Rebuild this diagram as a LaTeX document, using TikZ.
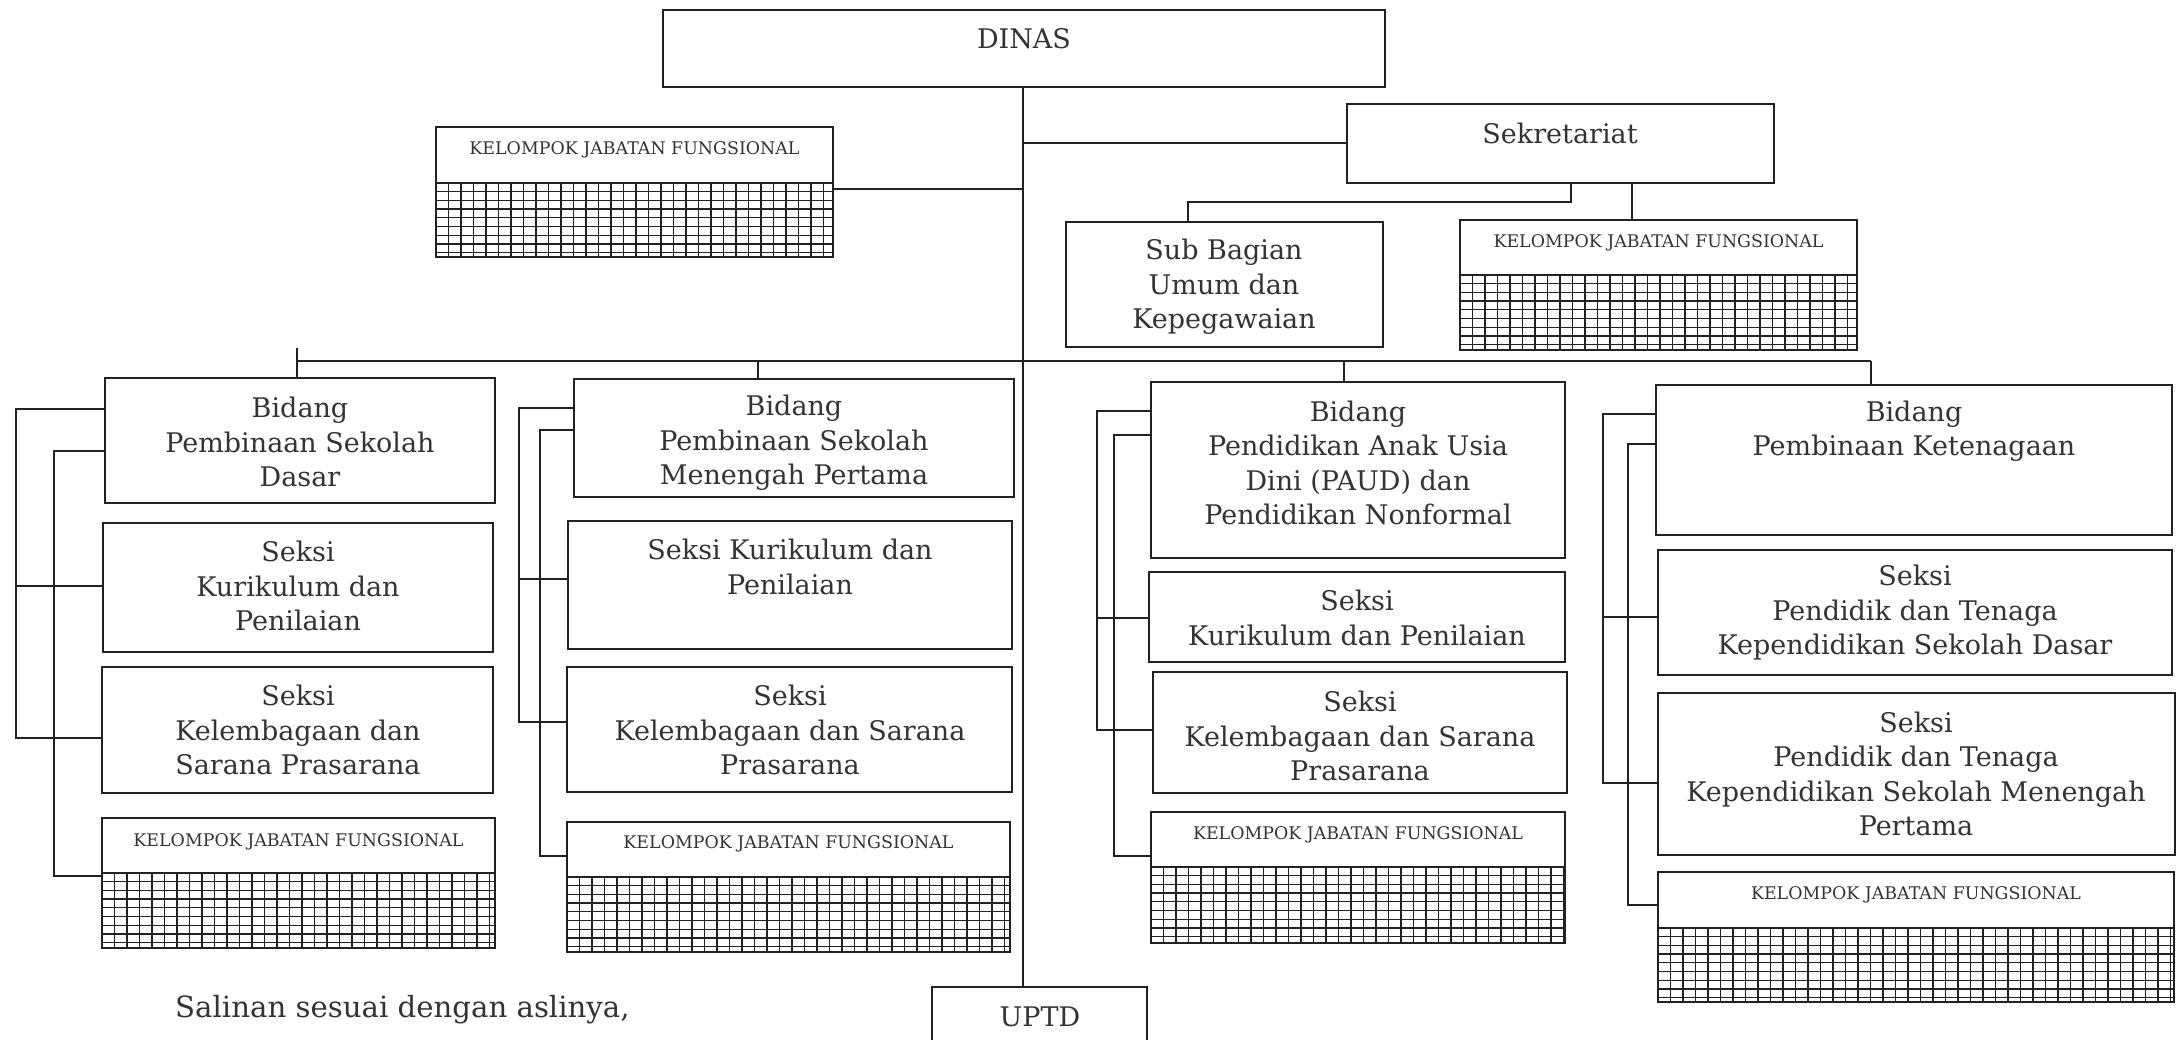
\documentclass[tikz,border=0pt]{standalone}
\usepackage{fontspec}
\setmainfont{DejaVu Serif}
\usetikzlibrary{calc}
\definecolor{ink}{gray}{0.13}
\definecolor{tink}{gray}{0.2}
\tikzset{
  box/.style={draw=ink,line width=2.6pt,rectangle,inner sep=0pt,outer sep=0pt},
  conn/.style={draw=ink,line width=2.1pt},
  hl/.style={draw=ink,line width=1.3pt},
  txt/.style={font=\fontsize{27}{34.5}\selectfont,text=tink,align=center,inner sep=0pt},
  kjft/.style={font=\fontsize{17.4}{20}\selectfont,text=tink,inner sep=0pt},
}
\newcommand\bx[5]{%
  \node[box,anchor=north west,minimum width={#4-#2},minimum height={#5-#3}] (#1) at (#2,#3) {};}
\newcommand\kjfbox[7]{%
  \node[box,anchor=north west,minimum width={#4-#2},minimum height={#5-#3}] (#1) at (#2,#3) {};
  \node[kjft] (#1t) at ({(#2+#4)/2},#7) {KELOMPOK JABATAN FUNGSIONAL};
  \begin{scope}
    \clip (#2,#6) rectangle (#4,#5);
    \foreach \k in {0,...,42} {\draw[hl] ({#2+\k*12.5},#6) -- ({#2+\k*12.5},#5);}
    \foreach \k in {0,...,9} {\draw[hl] (#2,{#6+\k*8.7}) -- (#4,{#6+\k*8.7});}
  \end{scope}
  \draw[box] (#2,#6) -- (#4,#6);
  \draw[box] (#2,#3) rectangle (#4,#5);}
\begin{document}
\begin{tikzpicture}[x=1pt,y=-1pt]
\useasboundingbox (0,0) rectangle (2179,1040);
\clip (0,0) rectangle (2179,1040);
\fill[white] (0,0) rectangle (2179,1040);

% ---- top part
\bx{dinas}{663}{10}{1385}{87}
\node[txt] (dinast) at (1024,39) {DINAS};
\kjfbox{kjf0}{436}{127}{833}{257}{183}{150}
\bx{sekr}{1347}{104}{1774}{183}
\node[txt] (sekrt) at (1560,133) {Sekretariat};
\bx{subbag}{1066}{222}{1383}{347}
\node[txt] (subbagt) at (1224,287) {Sub Bagian\\Umum dan\\Kepegawaian};
\kjfbox{kjfs}{1460}{220}{1857}{350}{275}{243}

% ---- column 1
\bx{bid1}{105}{378}{495}{503}
\node[txt] (bid1t) at (300,442) {Bidang\\Pembinaan Sekolah\\Dasar};
\bx{kur1}{103}{523}{493}{652}
\node[txt] (kur1t) at (298,586) {Seksi\\Kurikulum dan\\Penilaian};
\bx{kel1}{102}{667}{493}{793}
\node[txt] (kel1t) at (298,730) {Seksi\\Kelembagaan dan\\Sarana Prasarana};
\kjfbox{kjf1}{102}{818}{495}{948}{873}{842}

% ---- column 2
\bx{bid2}{574}{379}{1014}{497}
\node[txt] (bid2t) at (794,443) {Bidang\\Pembinaan Sekolah\\Menengah Pertama};
\bx{kur2}{568}{521}{1012}{649}
\node[txt] (kur2t) at (790,567) {Seksi Kurikulum dan\\Penilaian};
\bx{kel2}{567}{667}{1012}{792}
\node[txt] (kel2t) at (790,730) {Seksi\\Kelembagaan dan Sarana\\Prasarana};
\kjfbox{kjf2}{567}{822}{1010}{952}{877}{844}

% ---- column 3
\bx{bid3}{1151}{382}{1565}{558}
\node[txt] (bid3t) at (1358,463) {Bidang\\Pendidikan Anak Usia\\Dini (PAUD) dan\\Pendidikan Nonformal};
\bx{kur3}{1149}{572}{1565}{662}
\node[txt] (kur3t) at (1357,618) {Seksi\\Kurikulum dan Penilaian};
\bx{kel3}{1153}{672}{1567}{793}
\node[txt] (kel3t) at (1360,736) {Seksi\\Kelembagaan dan Sarana\\Prasarana};
\kjfbox{kjf3}{1151}{812}{1565}{943}{867}{835}

% ---- column 4
\bx{bid4}{1656}{385}{2172}{535}
\node[txt] (bid4t) at (1914,431) {Bidang\\Pembinaan Ketenagaan};
\bx{sk41}{1658}{550}{2172}{675}
\node[txt] (sk41t) at (1915,613) {Seksi\\Pendidik dan Tenaga\\Kependidikan Sekolah Dasar};
\bx{sk42}{1658}{693}{2175}{855}
\node[txt] (sk42t) at (1916,774) {Seksi\\Pendidik dan Tenaga\\Kependidikan Sekolah Menengah\\Pertama};
\kjfbox{kjf4}{1658}{872}{2174}{1002}{928}{895}

% ---- UPTD and note
\bx{uptd}{932}{987}{1147}{1070}
\node[txt] (uptdt) at (1040,1017) {UPTD};
\node[font=\fontsize{29.2}{35}\selectfont,text=tink,inner sep=0pt,anchor=base west] (salin) at (175,1017) {Salinan sesuai dengan aslinya,};

% ---- main connectors
\coordinate (mtop) at (1023,87);
\draw[conn] (mtop) -- (mtop |- uptd.north);
\coordinate (sk) at (1023,143);
\draw[conn] (sk) -- (sekr.west |- sk);
\coordinate (k0) at (1023,189);
\draw[conn] (kjf0.east |- k0) -- (k0);
\coordinate (s1) at (1571,202);
\draw[conn] (s1 |- sekr.south) -- (s1) -| (subbag.north -| 1188,0);
\coordinate (s2) at (1632,0);
\draw[conn] (s2 |- sekr.south) -- (s2 |- kjfs.north);

% ---- bus
\coordinate (busl) at (297,361);
\coordinate (busr) at (1871,361);
\draw[conn] (busl) -- (busr);
\draw[conn] (297,348) -- (busl |- bid1.north);
\coordinate (d2) at (758,361);
\draw[conn] (d2) -- (d2 |- bid2.north);
\coordinate (d3) at (1344,361);
\draw[conn] (d3) -- (d3 |- bid3.north);
\draw[conn] (busr) -- (busr |- bid4.north);

% ---- column 1 side lines
\coordinate (a1) at (16,409); \coordinate (a2) at (16,586); \coordinate (a3) at (16,738);
\draw[conn] (bid1.west |- a1) -- (a1) -- (a3) -- (kel1.west |- a3);
\draw[conn] (a2) -- (kur1.west |- a2);
\coordinate (b1) at (54,451); \coordinate (b2) at (54,876);
\draw[conn] (bid1.west |- b1) -- (b1) -- (b2) -- (kjf1.west |- b2);

% ---- column 2 side lines
\coordinate (e1) at (519,408); \coordinate (e2) at (519,579); \coordinate (e3) at (519,722);
\draw[conn] (bid2.west |- e1) -- (e1) -- (e3) -- (kel2.west |- e3);
\draw[conn] (e2) -- (kur2.west |- e2);
\coordinate (f1) at (540,430); \coordinate (f2) at (540,856);
\draw[conn] (bid2.west |- f1) -- (f1) -- (f2) -- (kjf2.west |- f2);

% ---- column 3 side lines
\coordinate (g1) at (1097,411); \coordinate (g2) at (1097,618); \coordinate (g3) at (1097,730);
\draw[conn] (bid3.west |- g1) -- (g1) -- (g3) -- (kel3.west |- g3);
\draw[conn] (g2) -- (kur3.west |- g2);
\coordinate (h1) at (1114,435); \coordinate (h2) at (1114,856);
\draw[conn] (bid3.west |- h1) -- (h1) -- (h2) -- (kjf3.west |- h2);

% ---- column 4 side lines
\coordinate (m1) at (1603,414); \coordinate (m2) at (1603,617); \coordinate (m3) at (1603,783);
\draw[conn] (bid4.west |- m1) -- (m1) -- (m3) -- (sk42.west |- m3);
\draw[conn] (m2) -- (sk41.west |- m2);
\coordinate (n1) at (1628,444); \coordinate (n2) at (1628,905);
\draw[conn] (bid4.west |- n1) -- (n1) -- (n2) -- (kjf4.west |- n2);
\end{tikzpicture}
\end{document}
